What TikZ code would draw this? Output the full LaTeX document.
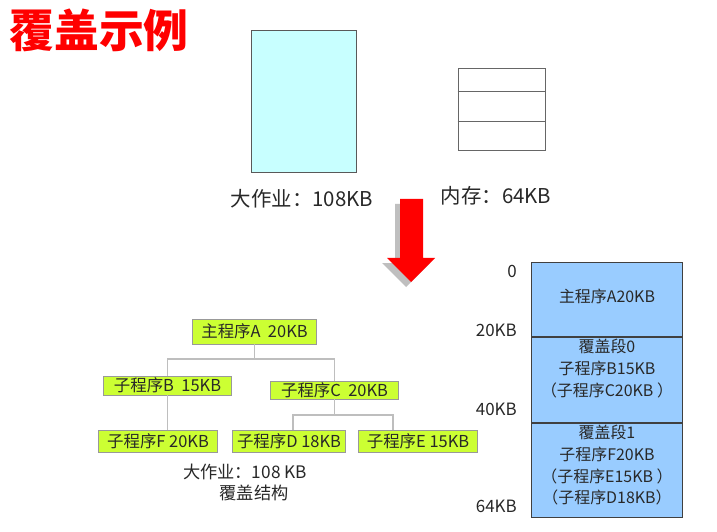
\documentclass[tikz,border=0pt]{standalone}
\usepackage{fontspec}
\setmainfont{Noto Sans CJK SC}
\usetikzlibrary{calc}
\definecolor{titlered}{RGB}{255,0,0}
\definecolor{jobcyan}{RGB}{200,255,255}
\definecolor{boxgreen}{RGB}{204,255,51}
\definecolor{memblue}{RGB}{153,204,255}
\definecolor{linegray}{RGB}{190,190,190}
\definecolor{txtgray}{RGB}{40,40,40}
\begin{document}
\begin{tikzpicture}[x=1bp,y=-1bp,
  prog/.style={draw=gray!80,line width=0.8bp,fill=boxgreen,inner sep=0pt,
    font=\fontsize{16.5}{18}\selectfont,text=txtgray},
  tline/.style={draw=linegray,line width=1.6bp},
  memseg/.style={draw=black!75,line width=1bp,fill=memblue,inner sep=0pt},
  memtxt/.style={font=\fontsize{16}{21.8}\selectfont,text=txtgray,align=center,inner sep=0pt},
  addr/.style={font=\fontsize{17}{18}\selectfont,text=txtgray,anchor=east,inner sep=0pt},
  biglabel/.style={font=\fontsize{20.5}{24}\selectfont,text=txtgray,inner sep=0pt}]
\useasboundingbox (0,0) rectangle (717,532);
\fill[white] (0,0) rectangle (717,532);

% title
\node[font=\fontsize{45}{50}\bfseries\selectfont,text=titlered,inner sep=0pt] (title) at (99,30) {覆盖示例};

% job box
\node[draw=black!65,line width=1bp,fill=jobcyan,minimum width=106,minimum height=143,inner sep=0pt] (job) at (304,101.5) {};
\node[biglabel] (joblbl) at (302,199) {大作业：108KB};

% memory box
\node[draw=black!60,line width=1bp,minimum width=88,minimum height=83,inner sep=0pt] (mem) at (502,109.5) {};
\draw[black!60,line width=1bp] (mem.west |- 0,92) -- (mem.east |- 0,92);
\draw[black!60,line width=1bp] (mem.west |- 0,122) -- (mem.east |- 0,122);
\node[biglabel] (memlbl) at (496,196) {内存：64KB};

% red arrow with shadow
\fill[black!25] (395,204) -- (418,204) -- (418,263) -- (430,263) -- (406,287) -- (382,263) -- (395,263) -- cycle;
\fill[red] (400,199) -- (423,199) -- (423,258) -- (435,258) -- (411,282) -- (387,258) -- (400,258) -- cycle;

% tree
\node[prog,minimum width=125,minimum height=25] (A) at (254.5,331.5) {主程序A\ \ 20KB};
\node[prog,minimum width=129,minimum height=19] (B) at (167.5,385.5) {子程序B\ \ 15KB};
\node[prog,minimum width=129,minimum height=18] (C) at (334.5,390) {子程序C\ \ 20KB};
\node[prog,minimum width=120,minimum height=22] (F) at (158,441) {子程序F 20KB};
\node[prog,minimum width=114,minimum height=22] (D) at (289,441) {子程序D 18KB};
\node[prog,minimum width=120,minimum height=22] (E) at (418,441) {子程序E 15KB};
\coordinate (aj) at (254.5,359);
\coordinate (cj) at (334.5,415);
\coordinate (dtop) at (293,430);
\coordinate (etop) at (393,430);
\draw[tline] (A.south) -- (aj);
\draw[tline] (aj) -| (B.north);
\draw[tline] (aj) -| (C.north);
\draw[tline] (B.south) -- (B.south |- F.north);
\draw[tline] (C.south) -- (cj);
\draw[tline] (cj) -| (dtop);
\draw[tline] (cj) -| (etop);
\node[font=\fontsize{17.3}{20}\selectfont,text=txtgray,inner sep=0pt] (treelbl) at (245,472) {大作业：108 KB};
\node[font=\fontsize{17.3}{20}\selectfont,text=txtgray,inner sep=0pt] (treelbl2) at (254,493) {覆盖结构};

% memory map
\node[memseg,minimum width=152,minimum height=75] (seg0) at (607,299.5) {};
\node[memseg,minimum width=152,minimum height=86] (seg1) at (607,380) {};
\node[memseg,minimum width=152,minimum height=95] (seg2) at (607,470.5) {};
\node[memtxt] (t0) at (607,296) {主程序A20KB};
\node[memtxt,anchor=north] (t1) at (607,339) {覆盖段0\\子程序B15KB\\（子程序C20KB ）};
\node[memtxt,anchor=north] (t2) at (607,425) {覆盖段1\\子程序F20KB\\（子程序E15KB ）\\（子程序D18KB）};
\node[addr] (a0) at (517,271) {0};
\node[addr] (a1) at (517,330) {20KB};
\node[addr] (a2) at (517,409) {40KB};
\node[addr] (a3) at (517,506) {64KB};
\end{tikzpicture}
\end{document}
